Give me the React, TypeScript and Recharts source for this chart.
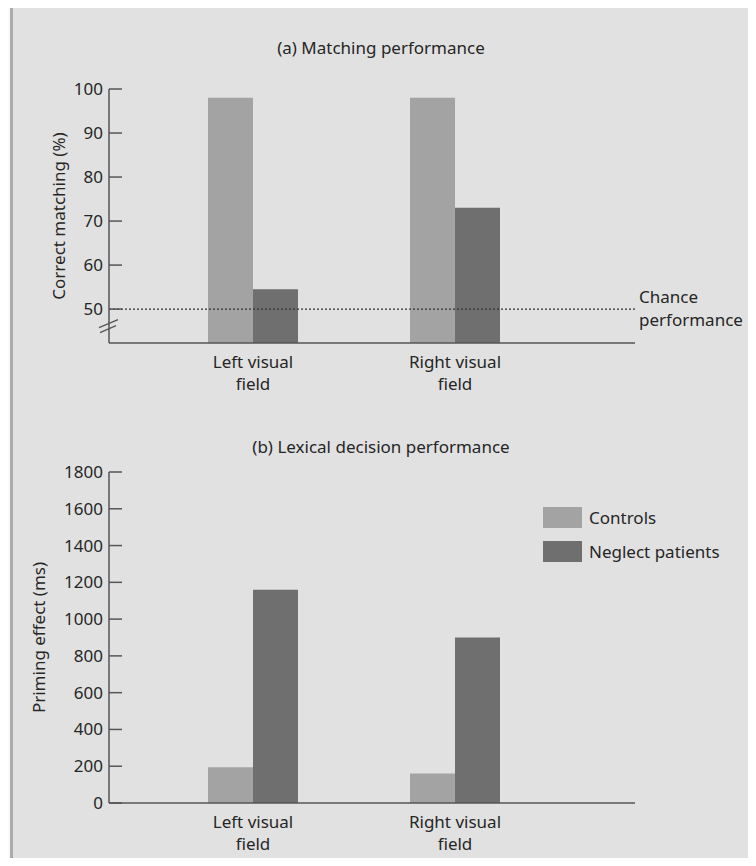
import React from "react";
import { BarChart, Bar, XAxis, YAxis, ReferenceLine, Legend } from "recharts";

// ---- data ----
const categories = ["Left visual field", "Right visual field"];
const seriesNames = ["Controls", "Neglect patients"];
const matchingControls = [98, 98];
const matchingNeglect = [54.5, 73];
const primingControls = [195, 160];
const primingNeglect = [1160, 900];
const matchingTicks = [50, 60, 70, 80, 90, 100];
const primingTicks = [0, 200, 400, 600, 800, 1000, 1200, 1400, 1600, 1800];
const chanceLevel = 50;
const breakValue = 46;
const chanceLabel = ["Chance", "performance"];

const matchingData = categories.map((c, i) => ({
  name: c,
  controls: matchingControls[i],
  neglect: matchingNeglect[i],
}));
const primingData = categories.map((c, i) => ({
  name: c,
  controls: primingControls[i],
  neglect: primingNeglect[i],
}));

const FONT = "'Noto Sans', 'DejaVu Sans', sans-serif";
const TEXT = "#262626";
const AXIS = "#555";
const C_CTRL = "#a3a3a3";
const C_NEG = "#6f6f6f";
const FS = 17;

const YTick = (props: any) => {
  const { x, y, payload } = props;
  const ax = x + 6;
  if (payload.value === breakValue) {
    return (
      <g>
        <line x1={ax - 10} y1={y + 1} x2={ax + 9} y2={y - 7} stroke={AXIS} strokeWidth={1.3} />
        <line x1={ax - 9} y1={y + 6} x2={ax + 7} y2={y - 1} stroke={AXIS} strokeWidth={1.3} />
      </g>
    );
  }
  return (
    <g>
      <line x1={ax} x2={ax + 13} y1={y} y2={y} stroke={AXIS} strokeWidth={1.5} />
      <text x={x} y={y} dy={6} textAnchor="end" fill={TEXT} fontSize={FS} fontFamily={FONT}>
        {payload.value}
      </text>
    </g>
  );
};

const XTick = (props: any) => {
  const { x, y, payload } = props;
  const words = String(payload.value).split(" ");
  const last = words.pop();
  return (
    <g>
      <text x={x} y={y + 25} textAnchor="middle" fill={TEXT} fontSize={FS} fontFamily={FONT}>
        {words.join(" ")}
      </text>
      <text x={x} y={y + 47} textAnchor="middle" fill={TEXT} fontSize={FS} fontFamily={FONT}>
        {last}
      </text>
    </g>
  );
};

const makeYLabel = (text: string, dx: number) => (props: any) => {
  const { viewBox } = props;
  const cx = viewBox.x + dx;
  const cy = viewBox.y + viewBox.height / 2;
  return (
    <text
      x={cx}
      y={cy}
      transform={`rotate(-90, ${cx}, ${cy})`}
      textAnchor="middle"
      dominantBaseline="central"
      fill={TEXT}
      fontSize={FS}
      fontFamily={FONT}
    >
      {text}
    </text>
  );
};

const ChanceLabel = (props: any) => {
  const { viewBox } = props;
  const x = viewBox.x + viewBox.width + 4;
  const y = viewBox.y;
  return (
    <g>
      <text x={x} y={y - 6} fill={TEXT} fontSize={FS} fontFamily={FONT}>
        {chanceLabel[0]}
      </text>
      <text x={x} y={y + 17} fill={TEXT} fontSize={FS} fontFamily={FONT}>
        {chanceLabel[1]}
      </text>
    </g>
  );
};

const LegendContent = () => (
  <div style={{ fontFamily: FONT, fontSize: FS, color: TEXT }}>
    {[C_CTRL, C_NEG].map((c, i) => (
      <div key={i} style={{ display: "flex", alignItems: "center", height: 21, marginBottom: 13 }}>
        <div style={{ width: 39, height: 21, background: c, marginRight: 7 }} />
        <span style={{ whiteSpace: "nowrap" }}>{seriesNames[i]}</span>
      </div>
    ))}
  </div>
);

const titleStyle: React.CSSProperties = {
  position: "absolute",
  left: 0,
  width: 762,
  textAlign: "center",
  fontFamily: FONT,
  fontSize: FS,
  color: TEXT,
};

export default function App() {
  return (
    <div style={{ position: "relative", width: 756, height: 866, margin: -8, background: "#fafafa", overflow: "hidden" }}>
      <div
        style={{
          position: "absolute",
          left: 10,
          top: 5,
          width: 746,
          height: 861,
          background: "#e1e1e1",
          borderLeft: "3px solid #ababab",
          borderTop: "3px solid #bdbdbd",
          boxSizing: "border-box",
        }}
      />
      <div style={{ ...titleStyle, top: 36 }}>(a) Matching performance</div>
      <div style={{ ...titleStyle, top: 435 }}>(b) Lexical decision performance</div>

      <div style={{ position: "absolute", left: 0, top: 0 }}>
        <BarChart
          width={756}
          height={400}
          data={matchingData}
          margin={{ top: 89, right: 121, bottom: 7, left: 49 }}
          barGap={0}
        >
          <XAxis
            dataKey="name"
            height={50}
            padding={{ left: 43, right: 79 }}
            tick={<XTick />}
            tickLine={false}
            tickSize={0}
            tickMargin={0}
            stroke={AXIS}
            strokeWidth={1.5}
          />
          <YAxis
            width={60}
            domain={[42.3, 100]}
            ticks={[breakValue, ...matchingTicks]}
            interval={0}
            allowDataOverflow
            tick={<YTick />}
            tickLine={false}
            tickSize={0}
            tickMargin={6}
            stroke={AXIS}
            strokeWidth={1.5}
            label={makeYLabel("Correct matching (%)", 9)}
          />
          <Bar dataKey="controls" name={seriesNames[0]} fill={C_CTRL} barSize={45} isAnimationActive={false} />
          <Bar dataKey="neglect" name={seriesNames[1]} fill={C_NEG} barSize={45} isAnimationActive={false} />
          <ReferenceLine
            y={chanceLevel}
            stroke="#333"
            strokeWidth={1.2}
            strokeDasharray="2 2"
            label={<ChanceLabel />}
          />
        </BarChart>
      </div>

      <div style={{ position: "absolute", left: 0, top: 420 }}>
        <BarChart
          width={756}
          height={446}
          data={primingData}
          margin={{ top: 52, right: 121, bottom: 13, left: 49 }}
          barGap={0}
        >
          <XAxis
            dataKey="name"
            height={50}
            padding={{ left: 43, right: 79 }}
            tick={<XTick />}
            tickLine={false}
            tickSize={0}
            tickMargin={0}
            stroke={AXIS}
            strokeWidth={1.5}
          />
          <YAxis
            width={60}
            domain={[0, 1800]}
            ticks={primingTicks}
            interval={0}
            tick={<YTick />}
            tickLine={false}
            tickSize={0}
            tickMargin={6}
            stroke={AXIS}
            strokeWidth={1.5}
            label={makeYLabel("Priming effect (ms)", -11)}
          />
          <Bar dataKey="controls" name={seriesNames[0]} fill={C_CTRL} barSize={45} isAnimationActive={false} />
          <Bar dataKey="neglect" name={seriesNames[1]} fill={C_NEG} barSize={45} isAnimationActive={false} />
          <Legend
            layout="vertical"
            align="center"
            verticalAlign="middle"
            content={<LegendContent />}
            wrapperStyle={{ left: 543, top: 87, width: 210, height: 80 }}
          />
        </BarChart>
      </div>
    </div>
  );
}
